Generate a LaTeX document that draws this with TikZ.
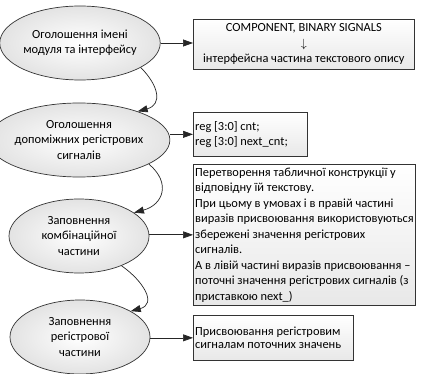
\documentclass[tikz,border=0pt]{standalone}
\usepackage{fontspec}
\setmainfont{Carlito}
\usetikzlibrary{shapes.geometric,arrows.meta,shadows}
\begin{document}
\begin{tikzpicture}[x=1pt,y=-1pt,
  every node/.style={font=\fontsize{12.4}{15.5}\selectfont},
  ell/.style={ellipse, draw=gray!40!black, line width=0.7pt, minimum width=140pt, minimum height=74pt, inner sep=0pt, align=center,
    shading=radial, inner color=white, outer color=gray!22},
  box/.style={rectangle, draw=gray!40!black, line width=0.7pt, anchor=north west, inner sep=0pt,
    top color=white, bottom color=gray!18, drop shadow={shadow xshift=1pt, shadow yshift=-1pt, fill=gray!50, opacity=0.6}},
  txt/.style={inner sep=0pt, anchor=west, align=left},
  conn/.style={draw=gray!30!black, line width=0.7pt, -{Triangle[length=10pt,width=7pt]}}
]
\useasboundingbox (0,0) rectangle (423,374);
% ellipses
\node[ell] (E1) at (80,43) {Оголошення імені\\модуля та інтерфейсу};
\node[ell] (E2) at (79,140) {Оголошення\\допоміжних регістрових\\сигналів};
\node[ell] (E3) at (79,236) {Заповнення\\комбінаційної\\частини};
\node[ell] (E4) at (80,337) {Заповнення\\регістрової\\частини};
% boxes
\node[box, minimum width=221pt, minimum height=50pt] (B1) at (193,19) {};
\node[box, minimum width=114pt, minimum height=44pt] (B2) at (193,112) {};
\node[box, minimum width=222pt, minimum height=141pt] (B3) at (193,164) {};
\node[box, minimum width=160pt, minimum height=45pt] (B4) at (193,315) {};
% box texts
\node[inner sep=0pt, align=center] (T1) at (B1.center)
  {COMPONENT, BINARY SIGNALS\\$\downarrow$\\інтерфейсна частина текстового опису};
\node[txt] (T2) at ([xshift=2pt]B2.west) {reg [3:0] cnt;\\reg [3:0] next\_cnt;};
\node[txt] (T3) at ([xshift=2pt]B3.west)
  {Перетворення табличної конструкції у\\відповідну їй текстову.\\При цьому в умовах і в правій частині\\виразів присвоювання використовуються\\збережені значення регістрових\\сигналів.\\А в лівій частині виразів присвоювання –\\поточні значення регістрових сигналів (з\\приставкою next\_)};
\node[txt, font=\fontsize{12.4}{13}\selectfont] (T4) at ([xshift=2pt]B4.west)
  {Присвоювання регістровим\\сигналам поточних значень};
% horizontal connectors
\draw[conn] (E1.east) -- (E1.east -| B1.west);
\draw[conn] (E2.east |- B2.west) -- (B2.west);
\draw[conn] (E3.east |- B3.west) -- (B3.west);
\draw[conn] (E4.east |- B4.west) -- (B4.west);
% curved connectors
\draw[conn] (E1.-22) to[out=-45, in=15, looseness=1.5] (E2.26);
\draw[conn] (E2.-19) to[out=-40, in=15, looseness=1.5] (E3.23);
\draw[conn] (E3.-35) to[out=-35, in=15, looseness=1.5] (E4.27);
\end{tikzpicture}
\end{document}
